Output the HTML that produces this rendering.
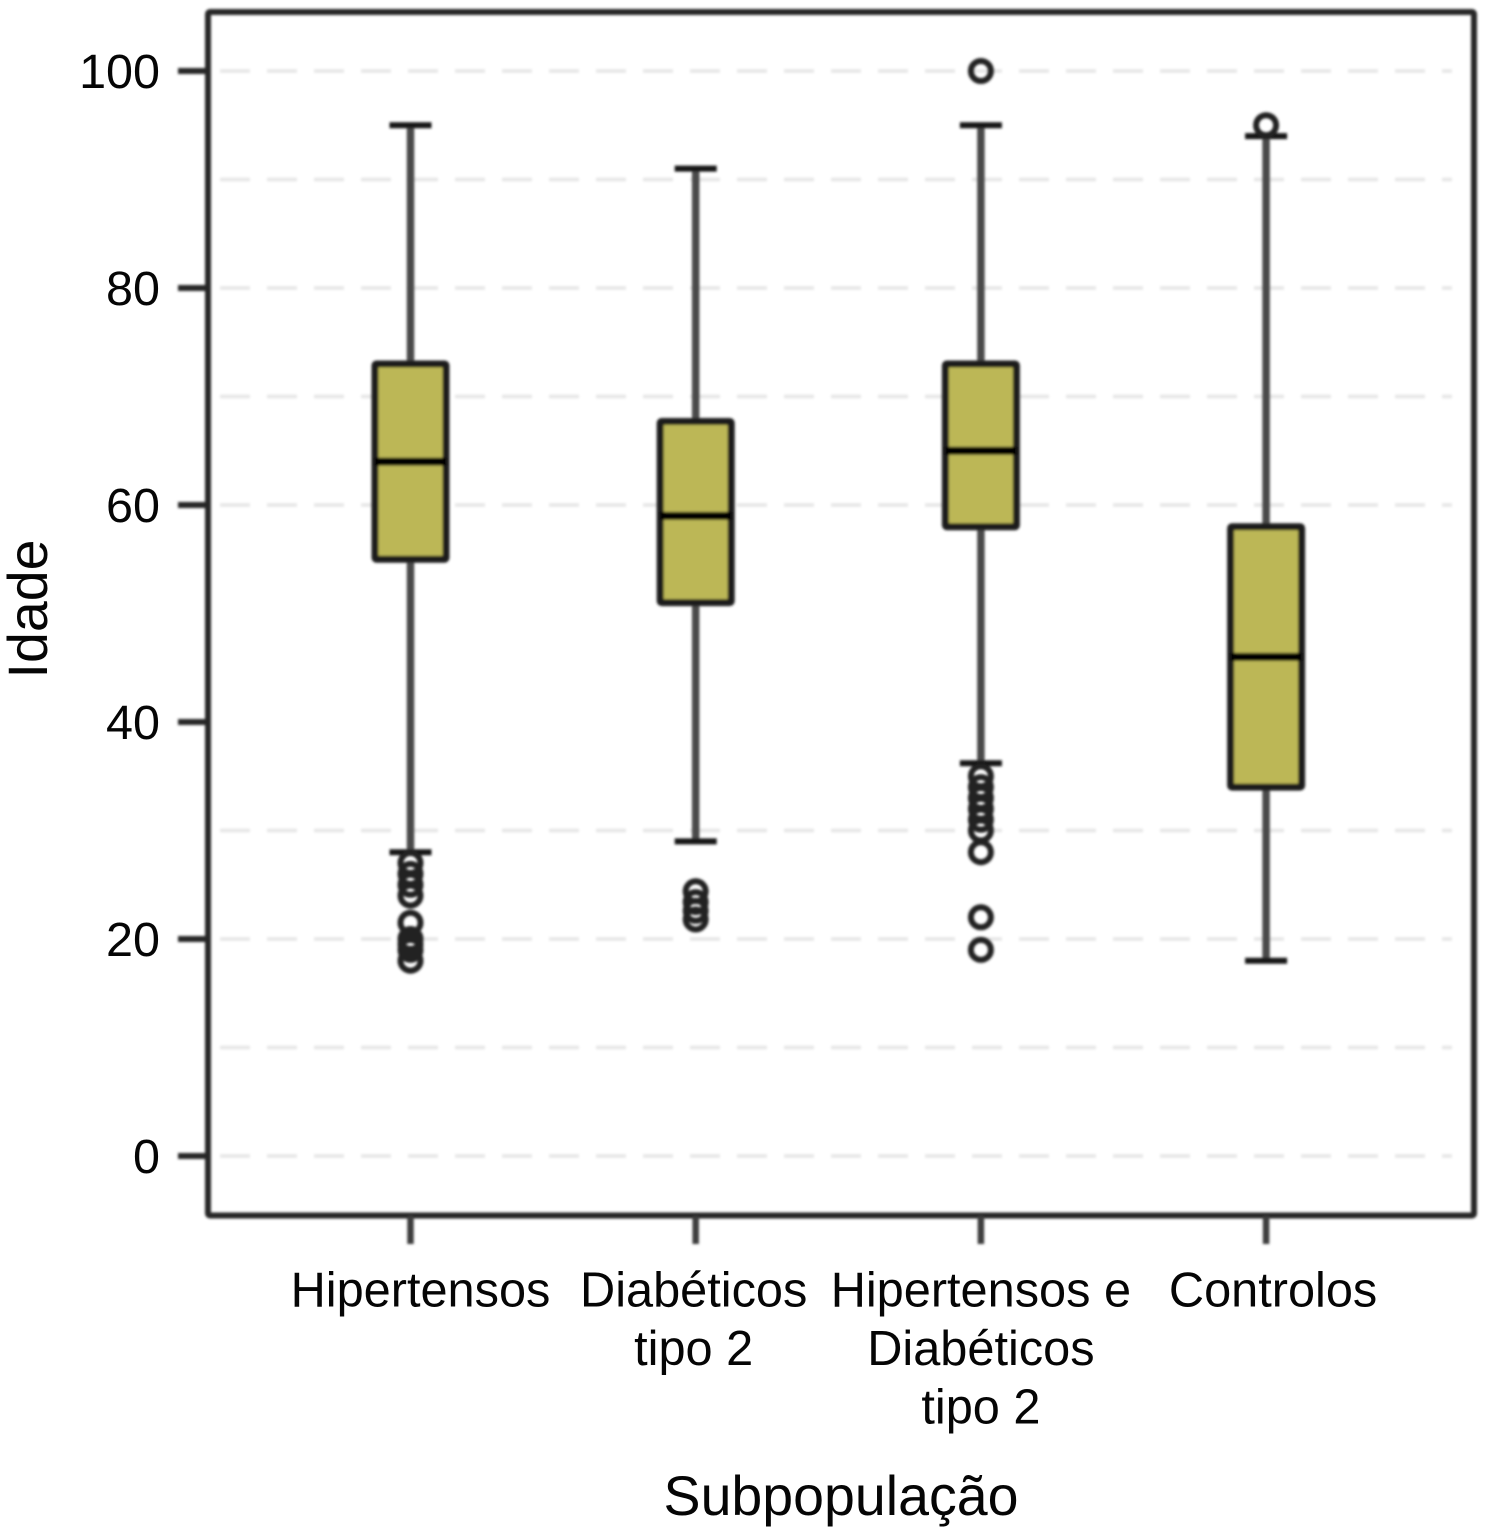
<!DOCTYPE html>
<html lang="pt">
<head>
<meta charset="utf-8">
<title>Idade por subpopulação</title>
<style>
html,body{margin:0;padding:0;background:#fff;width:1487px;height:1527px;overflow:hidden}
svg{display:block}
text{font-family:"Liberation Sans",sans-serif;fill:#050505}
</style>
</head>
<body>
<svg id="chart" xmlns="http://www.w3.org/2000/svg" width="1487" height="1527" viewBox="0 0 1487 1527">
  <defs>
    <filter id="soft" x="-5%" y="-5%" width="110%" height="110%"><feGaussianBlur stdDeviation="1.4"/></filter>
    <filter id="softer" x="-5%" y="-5%" width="110%" height="110%"><feGaussianBlur stdDeviation="1.3"/></filter>
  </defs>
  <g id="grid" filter="url(#softer)"></g>
  <g id="marks" filter="url(#soft)"></g>
  <g id="axes" filter="url(#soft)">
    <rect x="208" y="12" width="1266" height="1203.5" rx="2" fill="none" stroke="#262626" stroke-width="6"/>
  </g>
  <g id="labels"></g>
  <text font-size="55.5" text-anchor="middle" transform="translate(47,609) rotate(-90)">Idade</text>
  <text font-size="55.5" text-anchor="middle" x="841" y="1515">Subpopulação</text>
</svg>
<script>
const categories = [
  ["Hipertensos"],
  ["Diabéticos", "tipo 2"],
  ["Hipertensos e", "Diabéticos", "tipo 2"],
  ["Controlos"]
];
const yTicks = [0, 20, 40, 60, 80, 100];
const gridValues = [0, 10, 20, 30, 60, 70, 80, 90, 100];
const whiskerLow = [28, 29, 36.2, 18];
const q1 = [55, 51, 58, 34];
const median = [64, 59, 65, 46];
const q3 = [73, 67.7, 73, 58];
const whiskerHigh = [95, 91, 95, 94];
const outliersHipertensos = [27, 26, 25, 24, 21.5, 20, 19.5, 19, 18];
const outliersDiabeticos = [24.4, 23.4, 22.6, 21.8];
const outliersAmbos = [100, 35, 34, 33, 32, 31, 30, 28, 22, 19];
const outliersControlos = [95];
const outliers = [outliersHipertensos, outliersDiabeticos, outliersAmbos, outliersControlos];

const NS = "http://www.w3.org/2000/svg";
function yScale(v) { return 1156 - v * 10.85; }
function xScale(i) { return 410.5 + i * 285.2; }
function make(parent, tag, attrs) {
  const el = document.createElementNS(NS, tag);
  for (const k in attrs) el.setAttribute(k, attrs[k]);
  parent.appendChild(el);
  return el;
}
const grid = document.getElementById("grid");
const marks = document.getElementById("marks");
const axes = document.getElementById("axes");
const labels = document.getElementById("labels");

gridValues.forEach(function (v) {
  const line = make(grid, "line", { x1: 220, x2: 1452, y1: yScale(v), y2: yScale(v), stroke: "#e6e6e6", "stroke-width": 3.5, "stroke-dasharray": "30 17" });
  
  
});

yTicks.forEach(function (v) {
  const tick = make(axes, "line", { x1: 178, x2: 208, y1: yScale(v), y2: yScale(v), stroke: "#262626", "stroke-width": 6 });
  
  
  const label = make(labels, "text", { x: 160, y: yScale(v) + 17, "text-anchor": "end", "font-size": 48.5 });
  label.textContent = String(v);
  
  
});

categories.forEach(function (lines, i) {
  const cx = xScale(i);
  const tick = make(axes, "line", { x1: cx, x2: cx, y1: 1216, y2: 1244, stroke: "#3c3c3c", "stroke-width": 6.5 });
  
  

  const nudge = i === 0 ? 10 : i === 3 ? 7 : 0;
  lines.forEach(function (txt, j) {
    const label = make(labels, "text", { x: cx + nudge - (i === 1 ? 2 : 0), y: 1306.5 + j * 58.5, "text-anchor": "middle", "font-size": 48.7 });
    label.textContent = txt;
    
    
  });

  const whisker = make(marks, "line", { x1: cx, x2: cx, y1: yScale(whiskerHigh[i]), y2: yScale(whiskerLow[i]), stroke: "#4a4a4a", "stroke-width": 7.5 });
  
  

  [whiskerHigh[i], whiskerLow[i]].forEach(function (v) {
    const cap = make(marks, "line", { x1: cx - 21, x2: cx + 21, y1: yScale(v), y2: yScale(v), stroke: "#151515", "stroke-width": 6 });
    
    
  });

  const box = make(marks, "rect", { x: cx - 35.5, y: yScale(q3[i]), width: 71, height: yScale(q1[i]) - yScale(q3[i]), rx: 1.5, fill: "#bcb757", stroke: "#1a1a1a", "stroke-width": 7 });
  
  

  const med = make(marks, "line", { x1: cx - 35.5, x2: cx + 35.5, y1: yScale(median[i]), y2: yScale(median[i]), stroke: "#050505", "stroke-width": 8 });
  
  

  outliers[i].forEach(function (v) {
    const c = make(marks, "circle", { cx: cx, cy: yScale(v), r: 10, fill: "none", stroke: "#222", "stroke-width": 6 });
    
    
  });
});
</script>
</body>
</html>
